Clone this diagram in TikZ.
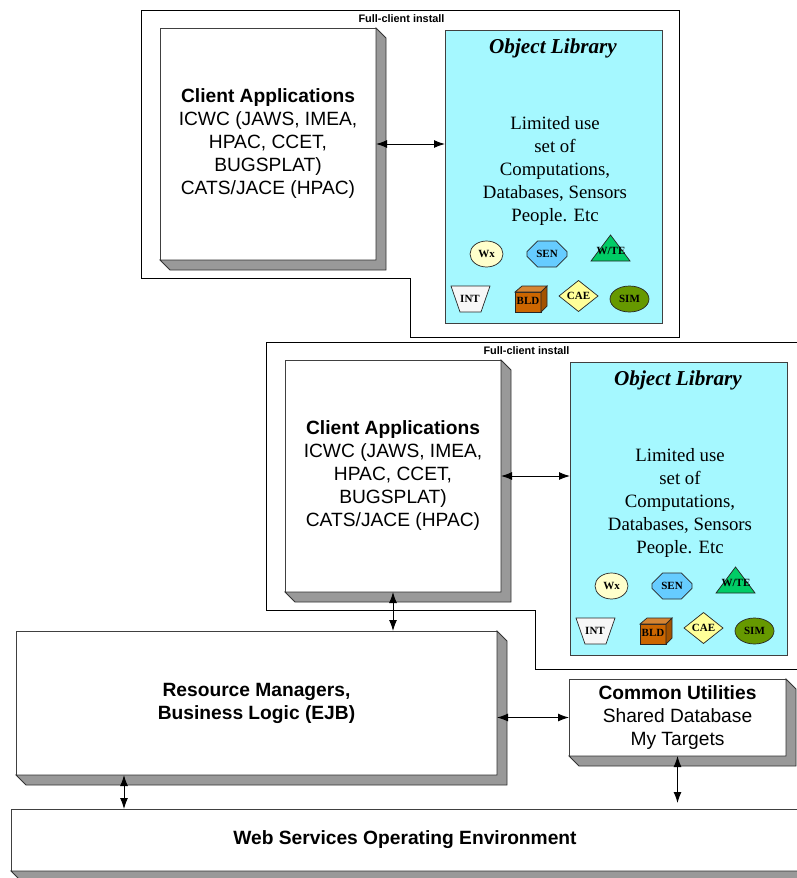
\documentclass[tikz,border=0pt]{standalone}
\usepackage{fontspec}
\setmainfont{Liberation Sans}
\newfontfamily\libfont{Liberation Serif}
\usetikzlibrary{shapes.geometric, shapes.misc, positioning, arrows.meta, calc}
\definecolor{slabgray}{HTML}{999999}
\definecolor{libcyan}{HTML}{A5F8FF}
\definecolor{wxyellow}{HTML}{FFFFCC}
\definecolor{senblue}{HTML}{66CCFF}
\definecolor{wtegreen}{HTML}{00CC66}
\definecolor{caeyellow}{HTML}{FFFF99}
\definecolor{simgreen}{HTML}{669900}
\definecolor{bldfront}{HTML}{CC6600}
\definecolor{bldtop}{HTML}{D68533}
\definecolor{bldside}{HTML}{A35200}
\tikzset{
  slab/.style={draw=black!75, fill=white, line width=0.8pt, outer sep=0pt, align=center,
    font=\fontsize{19.2}{23}\selectfont},
  mini/.style={draw=black!85, line width=0.7pt, inner sep=0pt, outer sep=0pt,
    font=\libfont\fontsize{11}{12}\selectfont\bfseries},
  tag/.style={inner sep=0pt, font=\libfont\fontsize{11}{12}\selectfont\bfseries},
  link/.style={<->, >={Latex[length=11pt,width=8pt]}, line width=1pt}
}
% the grey sides under and to the right of a box
\newcommand{\slabside}[1]{
  \draw[fill=slabgray, draw=black!80, line width=0.8pt] (#1.north east) -- ++(10,10)
    -- ($(#1.south east)+(10,10)$) -- ($(#1.south west)+(10,10)$) -- (#1.south west)
    -- (#1.south east) -- cycle;
}
\begin{document}
\begin{tikzpicture}[x=1pt, y=-1pt]
  \useasboundingbox (0,0) rectangle (796,878);

  \foreach \g/\dx/\dy in {1/0/0, 2/125/332}
  {
    \begin{scope}[shift={(\dx,\dy)}]
      \draw[line width=0.8pt] (141,10) -- (679,10) -- (679,337) -- (410,337) -- (410,278)
        -- (141,278) -- cycle;
      \node[font=\fontsize{10.9}{12}\selectfont\bfseries] (install\g) at (401.5,19) {Full-client install};

      \node[slab, minimum width=216, minimum height=232] (client\g) at (268,144)
        {\textbf{Client Applications}\\ICWC (JAWS, IMEA,\\HPAC, CCET,\\BUGSPLAT)\\CATS/JACE (HPAC)};
      \slabside{client\g}

      \node[draw=black!75, fill=libcyan, line width=0.8pt, outer sep=0pt,
        minimum width=217, minimum height=293] (lib\g) at (553.5,176.5) {};
      \node[font=\libfont\fontsize{21.2}{24}\selectfont\bfseries\itshape] (title\g) at (553,48) {Object Library};
      \node[align=center, font=\libfont\fontsize{18.8}{23}\selectfont] (limited\g) at (555,171)
        {Limited use\\set of\\Computations,\\Databases, Sensors\\People. Etc};

      % little object symbols
      \node[mini, ellipse, fill=wxyellow, minimum width=33, minimum height=26] (wx\g) at (486.5,254) {Wx};
      \node[mini, chamfered rectangle, chamfered rectangle xsep=7pt, chamfered rectangle ysep=7pt,
        fill=senblue, minimum width=40, minimum height=26] (sen\g) at (547,254) {SEN};
      \draw[draw=black!85, fill=wtegreen, line width=0.7pt] (591,261) -- (610.5,235) -- (630,261) -- cycle;
      \node[tag] (wte\g) at (611,251) {W/TE};
      \draw[draw=black!85, fill=black!3, line width=0.7pt] (451,286) -- (490,286) -- (481,312) -- (460,312) -- cycle;
      \node[tag] (int\g) at (470,299) {INT};
      \draw[draw=black!85, fill=bldfront, line width=0.7pt] (515,312) -- (515,292) -- (541,292) -- (541,312) -- cycle;
      \draw[draw=black!85, fill=bldtop, line width=0.7pt] (515,292) -- (522,286) -- (547,286) -- (541,292) -- cycle;
      \draw[draw=black!85, fill=bldside, line width=0.7pt] (541,292) -- (547,286) -- (547,306) -- (541,312) -- cycle;
      \node[tag] (bld\g) at (528,301) {BLD};
      \node[mini, diamond, aspect=1.25, fill=caeyellow, minimum width=39, minimum height=31] (cae\g) at (578.5,296) {CAE};
      \node[mini, ellipse, fill=simgreen, minimum width=39, minimum height=26] (sim\g) at (629.5,299) {SIM};

      \draw[link] (client\g.east) -- (client\g.east -| lib\g.west);
    \end{scope}
  }

  \node[slab, minimum width=481, minimum height=144] (resource) at (256.5,703)
    {\textbf{Resource Managers,}\\\textbf{Business Logic (EJB)}};
  \slabside{resource}
  \node[slab, minimum width=217, minimum height=77] (common) at (677.5,717.5)
    {\textbf{Common Utilities}\\Shared Database\\My Targets};
  \slabside{common}
  \node[slab, minimum width=788, minimum height=62] (web) at (405,840)
    {\textbf{Web Services Operating Environment}};
  \slabside{web}

  \coordinate (rbottom) at (124,775);
  \coordinate (cfree) at (677.5,803);

  \draw[link] (client2.south) -- (client2.south |- resource.north);
  \draw[link] (common.west) -- (common.west -| resource.east);
  \draw[link] (rbottom) -- (rbottom |- web.north);
  \draw[link] (common.south) -- (cfree);
\end{tikzpicture}
\end{document}
